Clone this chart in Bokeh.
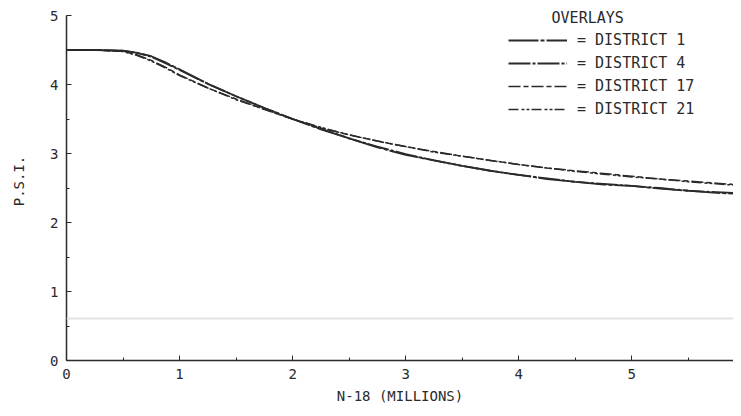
from bokeh.plotting import figure
from bokeh.models import Range1d, Legend, LegendItem, Label, Span, FixedTicker
from bokeh.embed import file_html
from bokeh.resources import INLINE

# ---- data ----
n18 = [0, 0.25, 0.5, 0.625, 0.75, 0.875, 1.0, 1.25, 1.5, 1.75, 2.0, 2.25, 2.5, 2.75, 3.0,
       3.25, 3.5, 3.75, 4.0, 4.25, 4.5, 4.75, 5.0, 5.25, 5.5, 5.75, 6.0]
district_1 = [4.50, 4.50, 4.49, 4.46, 4.41, 4.32, 4.22, 4.01, 3.83, 3.66, 3.50, 3.35, 3.22, 3.09, 2.98,
              2.90, 2.82, 2.75, 2.69, 2.63, 2.59, 2.55, 2.53, 2.49, 2.46, 2.43, 2.41]
district_4 = [4.50, 4.50, 4.49, 4.46, 4.40, 4.31, 4.21, 4.01, 3.83, 3.66, 3.50, 3.36, 3.22, 3.10, 2.99,
              2.90, 2.82, 2.75, 2.69, 2.64, 2.59, 2.56, 2.53, 2.50, 2.46, 2.44, 2.42]
district_17 = [4.50, 4.50, 4.48, 4.43, 4.35, 4.25, 4.14, 3.95, 3.79, 3.64, 3.50, 3.37, 3.27, 3.18, 3.10,
               3.03, 2.96, 2.90, 2.84, 2.79, 2.75, 2.71, 2.67, 2.63, 2.60, 2.57, 2.54]
district_21 = [4.50, 4.50, 4.48, 4.42, 4.34, 4.24, 4.13, 3.95, 3.78, 3.64, 3.50, 3.38, 3.27, 3.18, 3.10,
               3.02, 2.96, 2.90, 2.84, 2.79, 2.74, 2.70, 2.66, 2.63, 2.59, 2.56, 2.53]
series_names = ["DISTRICT 1", "DISTRICT 4", "DISTRICT 17", "DISTRICT 21"]
x_ticks = [0, 1, 2, 3, 4, 5, 6]
y_ticks = [0, 1, 2, 3, 4, 5]

FONT = "DejaVu Sans Mono"
INK = "#2a2a2a"

p = figure(width=733, height=408, output_backend="svg", toolbar_location=None,
           x_range=Range1d(0, 5.90), y_range=Range1d(0, 5.203),
           min_border_left=66, min_border_right=0, min_border_top=1, min_border_bottom=48)
p.outline_line_color = None
p.xgrid.visible = False
p.ygrid.visible = False
p.background_fill_color = "white"
p.border_fill_color = "white"

# faint scan line
p.add_layout(Span(location=0.61, dimension="width", line_color="#e2e2e2", line_width=2))

styles = [("30 2 4 2", 1.8), ("22 2 3 2", 1.8), ("12 3 5 3", 1.5), ("10 3 3 2 3 2", 1.5)]
renderers = []
for ys, (dash, w) in zip([district_1, district_4, district_17, district_21], styles):
    r = p.line(n18, ys, line_color=INK, line_width=w, line_dash=dash)
    renderers.append(r)

# axes
for ax in (p.xaxis[0], p.yaxis[0]):
    ax.axis_line_color = INK
    ax.axis_line_width = 1.5
    ax.major_tick_in = 5
    ax.major_tick_out = 0
    ax.minor_tick_in = 3
    ax.minor_tick_out = 0
    ax.major_tick_line_color = INK
    ax.minor_tick_line_color = INK
    ax.major_label_text_font = FONT
    ax.major_label_text_font_size = "14px"
    ax.major_label_text_color = INK
    ax.axis_label_text_font = FONT
    ax.axis_label_text_font_size = "14px"
    ax.axis_label_text_font_style = "normal"
    ax.axis_label_text_color = INK

p.yaxis[0].bounds = (0, 5)
p.xaxis[0].ticker = FixedTicker(ticks=x_ticks, minor_ticks=[v + 0.5 for v in x_ticks])
p.yaxis[0].ticker = FixedTicker(ticks=y_ticks, minor_ticks=[v + 0.5 for v in y_ticks[:-1]])
p.xaxis[0].axis_label = "N-18 (MILLIONS)"
p.yaxis[0].axis_label = "P.S.I."
p.xaxis[0].major_label_standoff = 8
p.xaxis[0].axis_label_standoff = 6
p.yaxis[0].major_label_standoff = 8
p.yaxis[0].axis_label_standoff = 20

legend = Legend(items=[LegendItem(label="= " + n, renderers=[r]) for n, r in zip(series_names, renderers)],
                location=(442, 241), padding=0, margin=0, spacing=3,
                glyph_width=59, glyph_height=20, label_height=20, label_standoff=10,
                label_text_font=FONT, label_text_font_size="15px", label_text_color=INK,
                background_fill_alpha=0, border_line_alpha=0)
p.add_layout(legend)

p.add_layout(Label(x=4.61, y=4.96, text="OVERLAYS", text_align="center", text_baseline="middle",
                   text_font=FONT, text_font_size="15px", text_color=INK))

open("out.html", "w").write(file_html(p, INLINE))
